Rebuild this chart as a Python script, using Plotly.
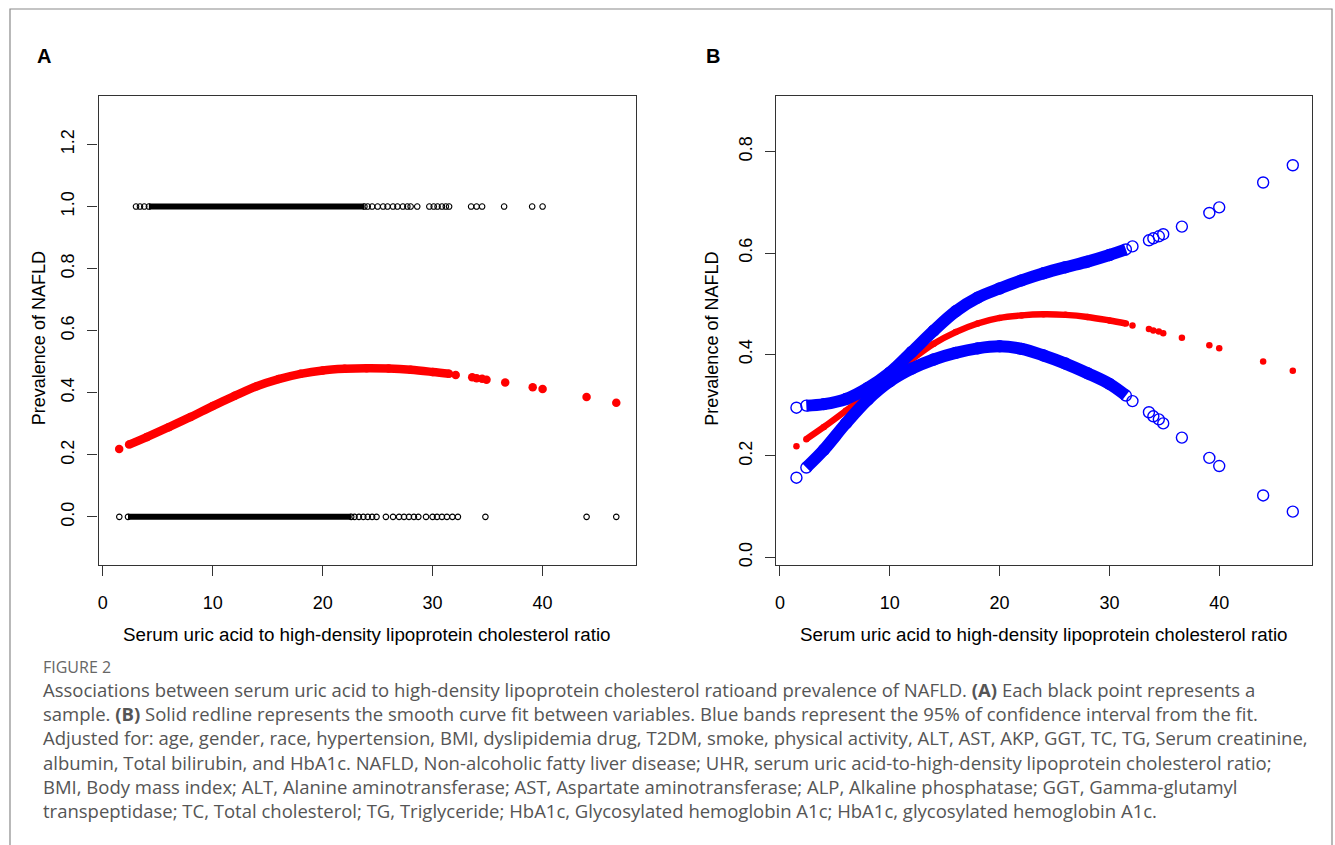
import plotly.graph_objects as go

# ---------------- data ----------------
FIT_X = [1.5, 2.4, 4, 6, 8, 10, 12, 14, 16, 18, 20, 22, 24, 26, 28, 30, 31.5,
         32.1, 33.6, 34.0, 34.5, 34.9, 36.6, 39.1, 40.0, 44.0, 46.7]
FIT_Y = [0.219, 0.233, 0.257, 0.289, 0.322, 0.357, 0.390, 0.421, 0.444, 0.461,
         0.472, 0.477, 0.479, 0.478, 0.474, 0.467, 0.461,
         0.457, 0.450, 0.447, 0.445, 0.442, 0.433, 0.418, 0.412, 0.386, 0.368]
UPPER_Y = [0.295, 0.299, 0.302, 0.312, 0.334, 0.364, 0.405, 0.447, 0.485, 0.512,
           0.530, 0.546, 0.560, 0.572, 0.583, 0.596, 0.607,
           0.613, 0.625, 0.629, 0.633, 0.637, 0.652, 0.679, 0.690, 0.739, 0.773]
LOWER_Y = [0.157, 0.177, 0.212, 0.264, 0.311, 0.347, 0.372, 0.390, 0.403, 0.412,
           0.416, 0.411, 0.398, 0.382, 0.363, 0.342, 0.319,
           0.308, 0.286, 0.278, 0.272, 0.264, 0.236, 0.196, 0.180, 0.122, 0.090]
FIT_DENSE = (2.4, 31.5)          # x-span where fitted points overlap into a band

NAFLD1_DENSE = (4.2, 23.8)       # x-span of overlapping samples with NAFLD = 1
NAFLD1_X = [3.03, 3.39, 3.78, 24.1, 24.5, 25.0, 25.5, 25.9, 26.4, 26.8, 27.3, 27.7,
            28.0, 28.6, 29.7, 30.1, 30.45, 30.85, 31.2, 31.5, 33.5, 34.0, 34.5,
            36.5, 39.05, 40.0]
NAFLD0_DENSE = (2.3, 22.6)       # x-span of overlapping samples with NAFLD = 0
NAFLD0_X = [1.51, 22.9, 23.3, 23.7, 24.1, 24.5, 24.9, 25.75, 26.4, 26.95, 27.4,
            27.85, 28.3, 28.7, 29.4, 30.0, 30.4, 30.85, 31.3, 31.8, 32.3, 34.8,
            44.0, 46.7]

X_TICKS = [0, 10, 20, 30, 40]
A_Y_TICKS = [0.0, 0.2, 0.4, 0.6, 0.8, 1.0, 1.2]
B_Y_TICKS = [0.0, 0.2, 0.4, 0.6, 0.8]

X_TITLE = "Serum uric acid to high-density lipoprotein cholesterol ratio"
Y_TITLE = "Prevalence of NAFLD"
CAPTION_HEAD = "FIGURE 2"
CAPTION_LINES = [
    "Associations between serum uric acid to high-density lipoprotein cholesterol ratioand prevalence of NAFLD. <b>(A)</b> Each black point represents a",
    "sample. <b>(B)</b> Solid redline represents the smooth curve fit between variables. Blue bands represent the 95% of confidence interval from the fit.",
    "Adjusted for: age, gender, race, hypertension, BMI, dyslipidemia drug, T2DM, smoke, physical activity, ALT, AST, AKP, GGT, TC, TG, Serum creatinine,",
    "albumin, Total bilirubin, and HbA1c. NAFLD, Non-alcoholic fatty liver disease; UHR, serum uric acid-to-high-density lipoprotein cholesterol ratio;",
    "BMI, Body mass index; ALT, Alanine aminotransferase; AST, Aspartate aminotransferase; ALP, Alkaline phosphatase; GGT, Gamma-glutamyl",
    "transpeptidase; TC, Total cholesterol; TG, Triglyceride; HbA1c, Glycosylated hemoglobin A1c; HbA1c, glycosylated hemoglobin A1c.",
]

# ---------------- layout helpers ----------------
W, H = 1335, 845
def fx(p):
    return p / W
def fy(p):
    return 1 - p / H

PLOT_FONT = "Liberation Sans, Arial, Helvetica, sans-serif"
CAP_FONT = "Open Sans, Noto Sans, sans-serif"
RED = "#ff0000"
BLUE = "#0000ff"
AXC = "#333333"

fig = go.Figure()

def dense(xs, ys, span):
    pts = [(x, y) for x, y in zip(xs, ys) if span[0] <= x <= span[1]]
    return [p[0] for p in pts], [p[1] for p in pts]

# ---- Panel A: raw samples ----
for row, span, xs in [(1.0, NAFLD1_DENSE, NAFLD1_X), (0.0, NAFLD0_DENSE, NAFLD0_X)]:
    fig.add_trace(go.Scatter(x=list(span), y=[row, row], mode="lines",
                             line=dict(color="black", width=6),
                             xaxis="x", yaxis="y", hoverinfo="skip", showlegend=False))
    allx = xs + list(span)
    fig.add_trace(go.Scatter(x=allx, y=[row] * len(allx), mode="markers",
                             marker=dict(symbol="circle-open", size=5.5, color="black",
                                         line=dict(width=1.1)),
                             xaxis="x", yaxis="y", hoverinfo="skip", showlegend=False))

# ---- Panel A: fitted curve ----
dx, dy = dense(FIT_X, FIT_Y, FIT_DENSE)
fig.add_trace(go.Scatter(x=dx, y=dy, mode="lines", line=dict(color=RED, width=8.5, shape="spline"),
                         xaxis="x", yaxis="y", hoverinfo="skip", showlegend=False))
fig.add_trace(go.Scatter(x=FIT_X, y=FIT_Y, mode="markers",
                         marker=dict(symbol="circle", size=8.5, color=RED, line=dict(width=0)),
                         xaxis="x", yaxis="y", hoverinfo="skip", showlegend=False))

# ---- Panel B: fit + confidence bands ----
fig.add_trace(go.Scatter(x=dx, y=dy, mode="lines", line=dict(color=RED, width=6.5, shape="spline"),
                         xaxis="x2", yaxis="y2", hoverinfo="skip", showlegend=False))
fig.add_trace(go.Scatter(x=FIT_X, y=FIT_Y, mode="markers",
                         marker=dict(symbol="circle", size=6.5, color=RED, line=dict(width=0)),
                         xaxis="x2", yaxis="y2", hoverinfo="skip", showlegend=False))
for ys in (UPPER_Y, LOWER_Y):
    bx, by = dense(FIT_X, ys, FIT_DENSE)
    fig.add_trace(go.Scatter(x=bx, y=by, mode="lines", line=dict(color=BLUE, width=12, shape="spline"),
                             xaxis="x2", yaxis="y2", hoverinfo="skip", showlegend=False))
    fig.add_trace(go.Scatter(x=FIT_X, y=ys, mode="markers",
                             marker=dict(symbol="circle-open", size=11, color=BLUE,
                                         line=dict(width=1.4)),
                             xaxis="x2", yaxis="y2", hoverinfo="skip", showlegend=False))

# ---------------- axes ----------------
tick_font = dict(family=PLOT_FONT, size=18, color="black")
def xaxis(domain, anchor):
    return dict(domain=domain, anchor=anchor, range=[-0.37, 48.45], tickmode="array",
                tickvals=X_TICKS, ticktext=[str(v) for v in X_TICKS], ticks="outside",
                ticklen=10, tickwidth=1.2, tickcolor=AXC, showline=True, linecolor=AXC,
                linewidth=1.3, mirror=True, showgrid=False, zeroline=False,
                tickfont=tick_font, ticklabelstandoff=12)
def yaxis(domain, anchor, rng, ticks):
    return dict(domain=domain, anchor=anchor, range=rng, tickmode="array",
                tickvals=ticks, ticktext=["%.1f" % v for v in ticks], ticks="outside",
                ticklen=10, tickwidth=1.2, tickcolor=AXC, showline=True, linecolor=AXC,
                linewidth=1.3, mirror=True, showgrid=False, zeroline=False,
                tickfont=tick_font, tickangle=-90, ticklabelstandoff=6)

BOX_TOP, BOX_BOT = 96, 566
A_L, A_R = 97.7, 635
B_L, B_R = 775.5, 1312

fig.update_layout(
    width=W, height=H, margin=dict(l=0, r=0, t=0, b=0),
    paper_bgcolor="white", plot_bgcolor="white", showlegend=False,
    xaxis=xaxis([fx(A_L), fx(A_R)], "y"),
    yaxis=yaxis([fy(BOX_BOT), fy(BOX_TOP)], "x", [-0.154, 1.357], A_Y_TICKS),
    xaxis2=xaxis([fx(B_L), fx(B_R)], "y2"),
    yaxis2=yaxis([fy(BOX_BOT), fy(BOX_TOP)], "x2", [-0.0145, 0.910], B_Y_TICKS),
)

ann = []
def text(x, y, s, size, family=PLOT_FONT, color="black", angle=0, xanchor="center", bold=False):
    ann.append(dict(x=fx(x), y=fy(y), xref="paper", yref="paper", text=("<b>%s</b>" % s) if bold else s,
                    showarrow=False, xanchor=xanchor, yanchor="middle", textangle=angle,
                    font=dict(family=family, size=size, color=color)))

text(43, 56, "A", 20, bold=True)
text(713, 56, "B", 20, bold=True)
text((A_L + A_R) / 2, 636, X_TITLE, 18.8)
text((B_L + B_R) / 2, 636, X_TITLE, 18.8)
text(38, 339, Y_TITLE, 18, angle=-90)
text(712, 339, Y_TITLE, 18, angle=-90)
text(40, 669, CAPTION_HEAD, 16, family=CAP_FONT, color="#666666", xanchor="left")
for i, line in enumerate(CAPTION_LINES):
    text(40, 691 + 24.3 * i, line, 18.5, family=CAP_FONT, color="#555555", xanchor="left")
fig.update_layout(annotations=ann)

fig.add_shape(type="rect", xref="paper", yref="paper", x0=fx(9), x1=fx(1332), y0=fy(860), y1=fy(9),
              line=dict(color="#8a8a8a", width=1.2), fillcolor="rgba(0,0,0,0)", layer="below")

fig.write_html("out.html", config={"displayModeBar": False},
               post_script="document.body.style.margin='0px';")
